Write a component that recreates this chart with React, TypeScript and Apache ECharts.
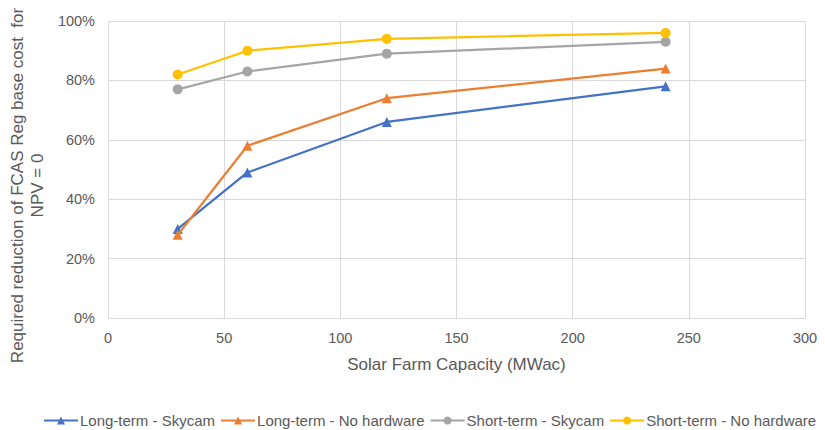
import React, { useEffect, useRef } from "react";
import * as echarts from "echarts";

const capacities = [30, 60, 120, 240];
const longSkycam = [30, 49, 66, 78];
const longNoHw = [28, 58, 74, 84];
const shortSkycam = [77, 83, 89, 93];
const shortNoHw = [82, 90, 94, 96];
const seriesNames = [
  "Long-term - Skycam",
  "Long-term - No hardware",
  "Short-term - Skycam",
  "Short-term - No hardware",
];
const colors = ["#4472C4", "#ED7D31", "#A5A5A5", "#FFC000"];
const symbols = ["triangle", "triangle", "circle", "circle"];

export default function App() {
  const ref = useRef<HTMLDivElement>(null);
  useEffect(() => {
    document.body.style.margin = "0";
    const chart = echarts.init(ref.current!, undefined, { renderer: "svg" });
    const data = [longSkycam, longNoHw, shortSkycam, shortNoHw];
    const font = "Liberation Sans, Arial, sans-serif";
    chart.setOption({
      animation: false,
      textStyle: { fontFamily: font },
      grid: {
        left: 108,
        right: 20,
        top: 21,
        bottom: 112,
        containLabel: false,
        outerBoundsMode: "none",
      },
      legend: {
        bottom: 2,
        padding: 0,
        left: 43,
        width: 800,
        itemWidth: 34,
        itemHeight: 10,
        itemGap: 5,
        textStyle: {
          color: "#595959",
          fontSize: 15,
          fontFamily: font,
          padding: [0, 0, 0, -3],
        },
        data: seriesNames,
      },
      xAxis: {
        type: "value",
        min: 0,
        max: 300,
        interval: 50,
        name: "Solar Farm Capacity (MWac)",
        nameLocation: "middle",
        nameGap: 38,
        nameTextStyle: { color: "#595959", fontSize: 17 },
        axisLine: { show: true, lineStyle: { color: "#d9d9d9" } },
        axisTick: { show: false },
        axisLabel: { color: "#595959", fontSize: 14.5, margin: 12 },
        splitLine: { show: true, lineStyle: { color: "#d9d9d9" } },
      },
      yAxis: {
        type: "value",
        min: 0,
        max: 100,
        interval: 20,
        name: "Required reduction of FCAS Reg base cost  for\nNPV = 0",
        nameLocation: "middle",
        nameGap: 59,
        nameTextStyle: {
          color: "#595959",
          fontSize: 17,
          lineHeight: 20,
          padding: [0, 32, 0, 0],
        },
        axisLine: { show: false },
        axisTick: { show: false },
        axisLabel: {
          color: "#595959",
          fontSize: 14.5,
          margin: 13,
          formatter: (v: number) => v + "%",
        },
        splitLine: { show: true, lineStyle: { color: "#d9d9d9" } },
      },
      series: seriesNames.map((name, i) => ({
        name,
        type: "line",
        data: capacities.map((c, j) => [c, data[i][j]]),
        symbol: symbols[i],
        symbolSize: 10,
        showSymbol: true,
        lineStyle: { color: colors[i], width: 2.25 },
        itemStyle: { color: colors[i] },
        z: 2 + i,
      })),
    });
    return () => chart.dispose();
  }, []);
  return <div ref={ref} style={{ width: 825, height: 430 }} />;
}
